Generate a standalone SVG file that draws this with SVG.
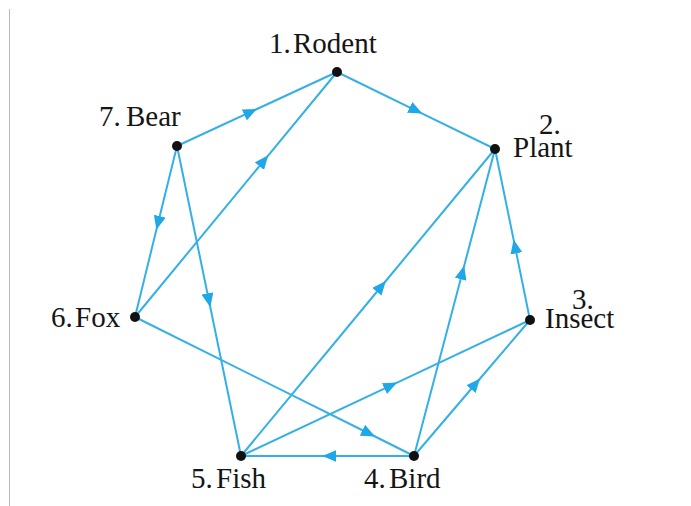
<svg xmlns="http://www.w3.org/2000/svg" width="691" height="506" viewBox="0 0 691 506">
<defs>
<style>
.e{fill:none;stroke:#35b0e6;stroke-width:2;marker-mid:url(#ah)}
.d{fill:#111}
.t{font-family:"Liberation Serif","Times New Roman",serif;font-size:29px;fill:#151515}
</style>
<marker id="ah" markerUnits="userSpaceOnUse" markerWidth="15" markerHeight="12" refX="14" refY="6" orient="auto" viewBox="0 0 15 12">
<path d="M0,0 L14,6 L0,12 z" fill="#1fa8e8"/>
</marker>
</defs>
<rect width="691" height="506" fill="#fff"/>
<line x1="9.5" y1="9" x2="9.5" y2="506" stroke="#bbb" stroke-width="1"/>
<g id="connectors">
<path class="e" d="M177,146 L257,109 L337,72"/>
<path class="e" d="M337,72 L422.3,113.6 L495,149"/>
<path class="e" d="M135,317 L268.3,155.3 L337,72"/>
<path class="e" d="M177,146 L156.4,229.8 L135,317"/>
<path class="e" d="M177,146 L210.3,307.2 L241,456"/>
<path class="e" d="M530,320 L513.6,239.6 L495,149"/>
<path class="e" d="M414,456 L464.2,265.7 L495,149"/>
<path class="e" d="M241,456 L385.8,281 L495,149"/>
<path class="e" d="M414,456 L480.1,378.5 L530,320"/>
<path class="e" d="M241,456 L397.1,382.6 L530,320"/>
<path class="e" d="M135,317 L375,436.5 L414,456"/>
<path class="e" d="M414,456 L322.3,456 L241,456"/>
</g>
<g id="n1"><circle class="d" cx="337" cy="72" r="5"/><text class="t" x="269" y="53">1.<tspan x="293">Rodent</tspan></text></g>
<g id="n2"><circle class="d" cx="495" cy="149" r="5"/><text class="t" x="539" y="134">2.</text><text class="t" x="513" y="157">Plant</text></g>
<g id="n3"><circle class="d" cx="530" cy="320" r="5"/><text class="t" x="572" y="309">3.</text><text class="t" x="545" y="328">Insect</text></g>
<g id="n4"><circle class="d" cx="414" cy="456" r="5"/><text class="t" x="364" y="488">4.<tspan x="389">Bird</tspan></text></g>
<g id="n5"><circle class="d" cx="241" cy="456" r="5"/><text class="t" x="191" y="488">5.<tspan x="216">Fish</tspan></text></g>
<g id="n6"><circle class="d" cx="135" cy="317" r="5"/><text class="t" x="51" y="327">6.<tspan x="75">Fox</tspan></text></g>
<g id="n7"><circle class="d" cx="177" cy="146" r="5"/><text class="t" x="99" y="126">7.<tspan x="126">Bear</tspan></text></g>
</svg>
